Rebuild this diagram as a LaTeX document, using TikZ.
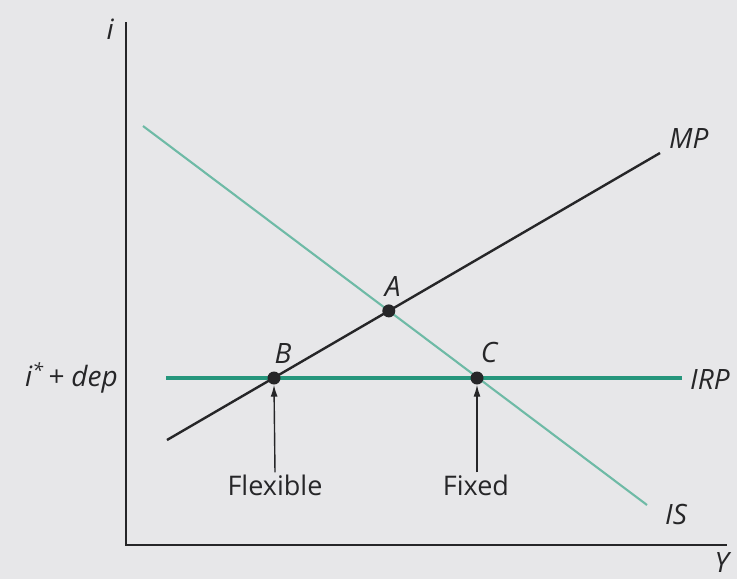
\documentclass[tikz,border=0pt]{standalone}
\usepackage{fontspec}
\setmainfont{Open Sans}
\usetikzlibrary{arrows.meta, positioning, calc}
\definecolor{irpTeal}{RGB}{38,150,124}
\definecolor{isTeal}{RGB}{110,186,166}
\definecolor{lineDark}{RGB}{38,38,40}
\definecolor{pageGray}{RGB}{231,231,233}

\begin{document}
\begin{tikzpicture}[
  x=1pt, y=-1pt,
  axis/.style={draw=lineDark, line width=1.5pt},
  curve/.style={line width=2.4pt},
  lbl/.style={font=\fontsize{28}{32}\selectfont\itshape, text=lineDark, inner sep=2pt},
  regime/.style={font=\fontsize{27}{32}\selectfont, text=lineDark, inner sep=2pt},
  eqdot/.style={circle, fill=lineDark, inner sep=0pt, minimum size=13pt},
  pointer/.style={-{Latex[length=12pt, width=7pt]}, line width=1.4pt, draw=lineDark}
]
\useasboundingbox[fill=pageGray] (0,0) rectangle (737,579);

% axes
\coordinate (top) at (126,22);
\coordinate (xend) at (727,545);
\draw[axis] (top) |- (xend);
\node[lbl, anchor=south east] (ilab) at (116,42) {i};
\node[lbl, anchor=north east] (ylab) at (731,550) {Y};

% schedules
\coordinate (is0) at (143,126);
\coordinate (is1) at (647,505);
\coordinate (mp0) at (167,440);
\coordinate (mp1) at (660,153);
\coordinate (irp0) at (166,378);
\coordinate (irp1) at (682,378);
\draw[curve, draw=isTeal, line width=2.1pt] (is0) -- (is1);
\draw[curve, draw=lineDark] (mp0) -- (mp1);
\draw[curve, draw=irpTeal, line width=3.4pt] (irp0) -- (irp1);
\node[lbl, anchor=west] (islab) at (663,514) {IS};
\node[lbl, anchor=west] (mplab) at (667,139) {MP};
\node[lbl, anchor=west] (irplab) at (688,379) {IRP};
\node[lbl, anchor=east] (deplab) at (120,378) {i\textsuperscript{*}\,+ dep};

% equilibria
\node[eqdot] (A) at (388.8,310.9) {};
\node[eqdot] (B) at (274,378) {};
\node[eqdot] (C) at (477,378) {};
\node[lbl, above=6pt of A, xshift=4pt] (alab) {A};
\node[lbl, above=6pt of B, xshift=9pt] (blab) {B};
\node[lbl, above=6pt of C, xshift=12pt] (clab) {C};

% regimes
\node[regime] (flex) at (275,485) {Flexible};
\node[regime] (fixed) at (476,485) {Fixed};
\draw[pointer] (flex.north) -- (B.south);
\draw[pointer] (fixed.north -| C) -- (C.south);
\end{tikzpicture}
\end{document}
